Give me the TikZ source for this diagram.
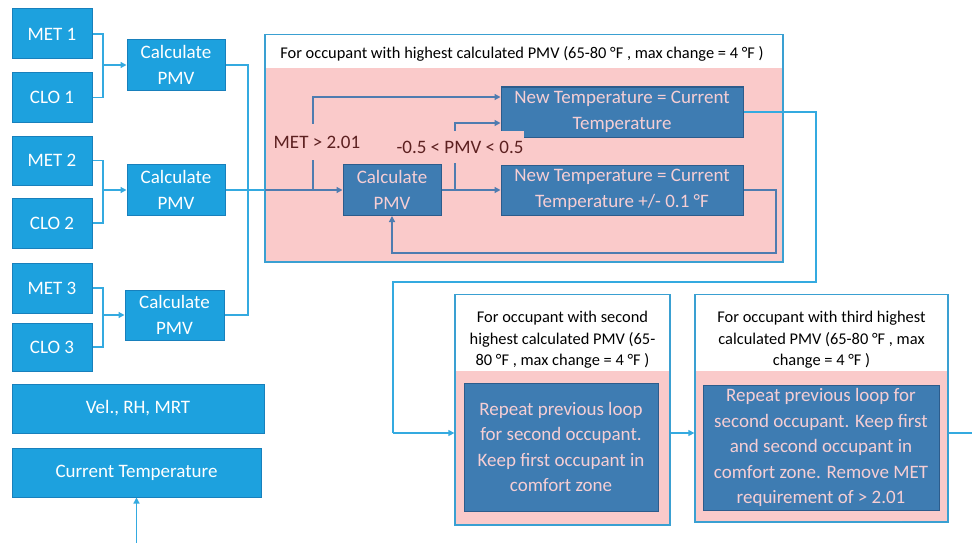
\documentclass[tikz,border=0pt]{standalone}
\usepackage{fontspec}
\setmainfont{Carlito}
\usetikzlibrary{arrows.meta}
\definecolor{lbfill}{RGB}{29,161,222}
\definecolor{lbborder}{RGB}{24,128,188}
\definecolor{dbfill}{RGB}{62,124,178}
\definecolor{dbborder}{RGB}{44,92,140}
\definecolor{dbtext}{RGB}{246,206,212}
\definecolor{pinkfill}{RGB}{250,202,202}
\definecolor{connblue}{RGB}{52,170,224}
\definecolor{iconncol}{RGB}{78,124,176}
\definecolor{labeltext}{RGB}{92,32,32}
\definecolor{contline}{RGB}{58,160,210}
\begin{document}
\begin{tikzpicture}[x=1pt,y=-1pt,
  bigfont/.style={font=\fontsize{19}{25.5}\selectfont},
  hdrfont/.style={font=\fontsize{16.4}{21.5}\selectfont},
  lbox/.style={draw=lbborder, fill=lbfill, text=white, line width=1pt, align=center, inner sep=0pt, bigfont},
  dbox/.style={draw=dbborder, fill=dbfill, text=dbtext, line width=1pt, align=center, inner sep=0pt, bigfont},
  cont/.style={draw=contline, fill=pinkfill, line width=1.3pt, inner sep=0pt},
  hdr/.style={fill=white, inner sep=0pt},
  hdrtext/.style={text=black, align=center, inner sep=0pt, hdrfont},
  lbl/.style={fill=pinkfill, text=labeltext, inner xsep=1pt, inner ysep=0pt, bigfont},
  conn/.style={draw=connblue, line width=1.3pt},
  iconn/.style={draw=iconncol, line width=1.3pt},
  arr/.style={-{Triangle[length=6pt,width=6pt]}}
]
\useasboundingbox (0,0) rectangle (972,543);
\fill[white] (0,0) rectangle (972,543);

% left column
\node[lbox, minimum width=80pt, minimum height=50pt] (met1) at (52,34) {MET 1};
\node[lbox, minimum width=80pt, minimum height=49pt] (clo1) at (52,97.5) {CLO 1};
\node[lbox, minimum width=98pt, minimum height=50pt] (calc1) at (176,65) {Calculate\\PMV};
\node[lbox, minimum width=80pt, minimum height=49pt] (met2) at (52,160.5) {MET 2};
\node[lbox, minimum width=80pt, minimum height=50pt] (clo2) at (52,223) {CLO 2};
\node[lbox, minimum width=98pt, minimum height=51pt] (calc2) at (176,190) {Calculate\\PMV};
\node[lbox, minimum width=80pt, minimum height=50pt] (met3) at (52,288) {MET 3};
\node[lbox, minimum width=80pt, minimum height=48pt] (clo3) at (52,347) {CLO 3};
\node[lbox, minimum width=99pt, minimum height=50pt] (calc3) at (174.5,315) {Calculate\\PMV};
\node[lbox, minimum width=252pt, minimum height=49pt] (vel) at (138,408.5) {Vel., RH, MRT};
\node[lbox, minimum width=249pt, minimum height=49pt] (cur) at (136.5,472.5) {Current Temperature};

% container 1
\node[cont, minimum width=518pt, minimum height=227pt] (box1) at (524,148.5) {};
\node[hdr, minimum width=516pt, minimum height=33pt, anchor=north] (h1) at ([yshift=-0.7pt]box1.north) {};
\node[hdrtext] (h1t) at (522,53.5) {For occupant with highest calculated PMV (65-80 °F , max change = 4 °F )};
\draw[contline, line width=1.3pt] (box1.north west) rectangle (box1.south east);

\node[dbox, minimum width=98pt, minimum height=51pt] (icalc) at (392,190) {Calculate\\PMV};
\node[dbox, minimum width=242pt, minimum height=50pt] (nt1) at (622,112) {New Temperature = Current\\Temperature};
\node[dbox, minimum width=242pt, minimum height=50pt] (nt2) at (622,190) {New Temperature = Current\\Temperature +/- 0.1 °F};

% container 2
\node[cont, minimum width=215pt, minimum height=230pt] (box2) at (562.5,410) {};
\node[hdr, minimum width=213.5pt, minimum height=76pt, anchor=north] (h2) at ([yshift=-0.7pt]box2.north) {};
\node[hdrtext] (h2t) at (562.5,340) {For occupant with second\\highest calculated PMV (65-\\80 °F , max change = 4 °F )};
\draw[contline, line width=1.3pt] (box2.north west) rectangle (box2.south east);
\node[dbox, minimum width=194pt, minimum height=128pt] (d2) at (561,447) {Repeat previous loop\\for second occupant.\\Keep first occupant in\\comfort zone};

% container 3
\node[cont, minimum width=253pt, minimum height=227pt] (box3) at (821.5,408.5) {};
\node[hdr, minimum width=251.5pt, minimum height=76pt, anchor=north] (h3) at ([yshift=-0.7pt]box3.north) {};
\node[hdrtext] (h3t) at (821.5,340) {For occupant with third highest\\calculated PMV (65-80 °F , max\\change = 4 °F )};
\draw[contline, line width=1.3pt] (box3.north west) rectangle (box3.south east);
\node[dbox, minimum width=236pt, minimum height=125pt] (d3) at (821,447.5) {Repeat previous loop for\\second occupant. Keep first\\and second occupant in\\comfort zone. Remove MET\\requirement of > 2.01};

% coordinates
\coordinate (j1) at (103,65);
\coordinate (j2) at (103,190);
\coordinate (j3) at (103,315);
\coordinate (bus) at (248,190);
\coordinate (entry) at (265,190);
\coordinate (b1) at (313,190);
\coordinate (b2) at (455,190);
\coordinate (lr) at (776,253);
\coordinate (c1) at (816,282);
\coordinate (c2) at (393,433);
\coordinate (exit) at (972,433);
\coordinate (bot) at (136.5,543);

% left connectors
\draw[conn] (met1.east) -| (j1) |- (clo1.east);
\draw[conn,arr] (j1) -- (calc1.west);
\draw[conn] (met2.east) -| (j2) |- (clo2.east);
\draw[conn,arr] (j2) -- (calc2.west);
\draw[conn] (met3.east) -| (j3) |- (clo3.east);
\draw[conn,arr] (j3) -- (calc3.west);
\draw[conn] (calc1.east) -| (bus);
\draw[conn] (calc3.east) -| (bus);
\draw[conn] (calc2.east) -- (entry);
\draw[conn,arr] (bot) -- (cur.south);

% inner connectors
\draw[iconn,arr] (entry) -- (icalc.west);
\draw[iconn,arr] (b1) |- ([yshift=15pt]nt1.west);
\draw[iconn,arr] (b2) |- ([yshift=-11pt]nt1.west);
\draw[iconn,arr] (icalc.east) -- (nt2.west);
\draw[iconn,arr] (nt2.east) -| (lr) -| (icalc.south);

\node[lbl, minimum height=36pt] (metlbl) at (317,142) {MET > 2.01};
\node[lbl, minimum height=32pt] (pmvlbl) at (460,147) {-0.5 < PMV < 0.5};

% outer flow
\draw[conn] (nt1.east) -| (c1) -| (c2);
\draw[conn,arr] (c2) -- (c2 -| box2.west);
\draw[conn,arr] (box2.east |- c2) -- (box3.west |- c2);
\draw[conn] (box3.east |- c2) -- (exit);
\end{tikzpicture}
\end{document}
